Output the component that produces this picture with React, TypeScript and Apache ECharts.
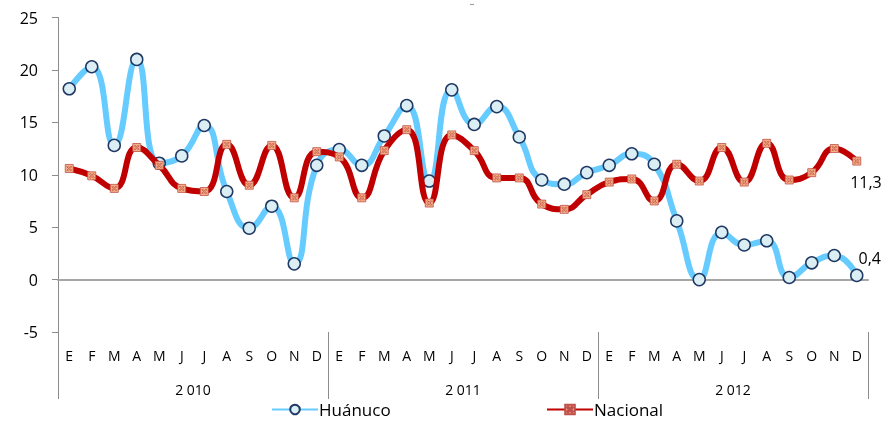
import React, { useEffect, useRef } from 'react';
import * as echarts from 'echarts';

const monthLabels = ['E', 'F', 'M', 'A', 'M', 'J', 'J', 'A', 'S', 'O', 'N', 'D'];
const yearLabels = ['2 010', '2 011', '2 012'];
const categories = yearLabels.flatMap(() => monthLabels);

const huanuco = [
  18.2, 20.3, 12.8, 21.0, 11.1, 11.8, 14.7, 8.4, 4.9, 7.0, 1.5, 10.9,
  12.4, 10.9, 13.7, 16.6, 9.4, 18.1, 14.8, 16.5, 13.6, 9.5, 9.1, 10.2,
  10.9, 12.0, 11.0, 5.6, 0.0, 4.5, 3.3, 3.7, 0.2, 1.6, 2.3, 0.4,
];
const nacional = [
  10.6, 9.9, 8.7, 12.6, 10.9, 8.7, 8.4, 12.9, 9.0, 12.8, 7.8, 12.2,
  11.7, 7.8, 12.3, 14.3, 7.3, 13.8, 12.3, 9.7, 9.7, 7.2, 6.7, 8.1,
  9.3, 9.6, 7.5, 11.0, 9.4, 12.6, 9.3, 13.0, 9.5, 10.2, 12.5, 11.3,
];

const FONT = 'Open Sans';
const AXIS_GRAY = '#8C8C8C';

export default function App() {
  const ref = useRef<HTMLDivElement>(null);
  useEffect(() => {
    const chart = echarts.init(ref.current!, null, { renderer: 'svg' });
    const fmt = (v: number) => v.toFixed(1).replace('.', ',');
    const last = huanuco.length - 1;
    const gridRect = { left: 58, right: 19, top: 17.5, bottom: 91 };

    const option: any = {
      animation: false,
      textStyle: { fontFamily: FONT },
      grid: [
        { ...gridRect },
        { ...gridRect },
      ],
      xAxis: [
        {
          type: 'category',
          gridIndex: 0,
          data: categories,
          position: 'bottom',
          boundaryGap: true,
          axisLine: { show: false, onZero: false },
          axisTick: { show: false },
          axisLabel: { interval: 0, margin: 16, fontSize: 14, color: '#000', fontFamily: FONT },
        },
        {
          type: 'category',
          gridIndex: 0,
          data: categories,
          position: 'top',
          axisLine: { show: true, onZero: true, lineStyle: { color: '#A6A6A6', width: 2 } },
          axisTick: { show: false },
          axisLabel: { show: false },
        },
        {
          type: 'category',
          gridIndex: 1,
          data: yearLabels,
          position: 'bottom',
          boundaryGap: true,
          axisLine: { show: false, onZero: false },
          axisTick: { show: true, length: 67, interval: 0, lineStyle: { color: AXIS_GRAY, width: 1 } },
          axisLabel: { interval: 0, margin: 50, fontSize: 14, color: '#000', fontFamily: FONT },
        },
      ],
      yAxis: [
        {
          type: 'value',
          gridIndex: 0,
          min: -5,
          max: 25,
          interval: 5,
          axisLine: { show: true, lineStyle: { color: AXIS_GRAY, width: 1 } },
          axisTick: { show: true, length: 6, lineStyle: { color: AXIS_GRAY } },
          splitLine: { show: false },
          axisLabel: { margin: 20, fontSize: 16, color: '#000', fontFamily: FONT },
        },
        { type: 'value', gridIndex: 1, show: false, min: -5, max: 25 },
      ],
      legend: [
        {
          data: ['Huánuco'],
          left: 271,
          top: 401,
          padding: 0,
          itemWidth: 46,
          itemHeight: 12,
          itemGap: 0,
          textStyle: { fontSize: 17, color: '#000', fontFamily: FONT, padding: [0, 0, 0, -4] },
        },
        {
          data: ['Nacional'],
          left: 546,
          top: 401,
          padding: 0,
          itemWidth: 46,
          itemHeight: 12,
          textStyle: { fontSize: 17, color: '#000', fontFamily: FONT, padding: [0, 0, 0, -4] },
        },
      ],
      graphic: [
        { type: 'line', shape: { x1: 470, y1: 4.5, x2: 474, y2: 4.5 }, style: { stroke: '#999', lineWidth: 1 } },
      ],
      series: [
        {
          name: 'Huánuco',
          type: 'line',
          xAxisIndex: 0,
          yAxisIndex: 0,
          smooth: 0.5,
          z: 2,
          data: huanuco.map((v, i) =>
            i === last
              ? {
                  value: v,
                  label: {
                    show: true,
                    position: 'right',
                    offset: [-10, -17],
                    formatter: () => fmt(v),
                    fontSize: 16,
                    color: '#000',
                    fontFamily: FONT,
                  },
                }
              : v
          ),
          symbol: 'circle',
          symbolSize: 12,
          lineStyle: { color: '#66CCFF', width: 6 },
          itemStyle: { color: '#DAEEF3', borderColor: '#1F3864', borderWidth: 1.5 },
        },
        {
          name: 'Nacional',
          type: 'line',
          xAxisIndex: 0,
          yAxisIndex: 0,
          smooth: 0.5,
          z: 3,
          data: nacional.map((v, i) =>
            i === last
              ? {
                  value: v,
                  label: {
                    show: true,
                    position: 'right',
                    offset: [-16, 21],
                    formatter: () => fmt(v),
                    fontSize: 16,
                    color: '#000',
                    fontFamily: FONT,
                  },
                }
              : v
          ),
          symbol: 'path://M0 0H10V10H0ZM2 3L3 2L5 4L7 2L8 3L6 5L8 7L7 8L5 6L3 8L2 7L4 5Z',
          symbolSize: 8,
          lineStyle: { color: '#C00000', width: 6 },
          itemStyle: { color: '#F4B183', borderColor: '#C0504D', borderWidth: 0.8 },
        },
      ],
    };
    chart.setOption(option);
    return () => chart.dispose();
  }, []);
  return <div ref={ref} style={{ position: 'fixed', left: 0, top: 0, width: 887, height: 423 }} />;
}
